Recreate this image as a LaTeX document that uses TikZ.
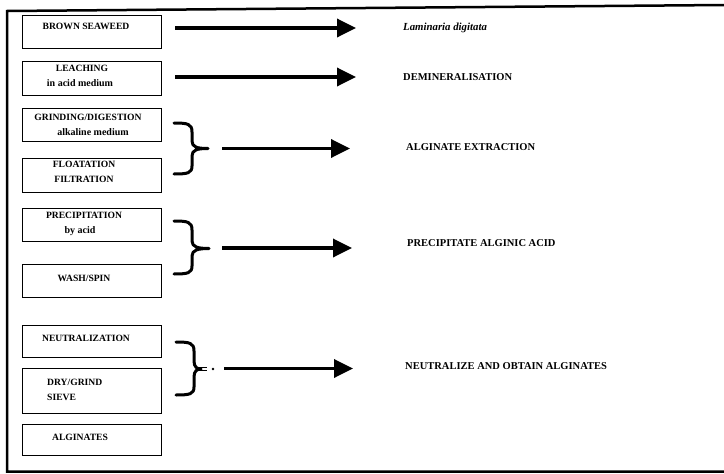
\documentclass[tikz,border=0pt]{standalone}
\usepackage{fontspec}
\setmainfont{Liberation Serif}
\usetikzlibrary{arrows.meta}
\begin{document}
\begin{tikzpicture}[x=1pt,y=-1pt,
 stepbox/.style={draw, line width=0.9pt, minimum width=139pt, inner sep=0pt},
 bt/.style={inner sep=0pt, font=\fontsize{9.6}{11}\selectfont\bfseries},
 st/.style={inner sep=0pt, font=\fontsize{10}{11}\selectfont\bfseries},
 lab/.style={inner sep=0pt, anchor=west, font=\fontsize{10.5}{12}\selectfont\bfseries},
 arr/.style={line width=3.5pt, -{Triangle[length=19pt,width=18pt]}},
 brc/.style={line width=3pt, line cap=round, line join=round}]
\useasboundingbox (0,0) rectangle (724,474);
% frame
\draw[line width=2.5pt] (724,5) -- (7,11) -- (7,471.5) -- (724,471.5);
% boxes
\node[stepbox, minimum height=33pt] (b1) at (91.5,31.5) {};
\node[stepbox, minimum height=34pt] (b2) at (91.5,78) {};
\node[stepbox, minimum height=33pt] (b3) at (91.5,124.5) {};
\node[stepbox, minimum height=34pt] (b4) at (91.5,175) {};
\node[stepbox, minimum height=33pt] (b5) at (91.5,224.5) {};
\node[stepbox, minimum height=33pt] (b6) at (91.5,280.5) {};
\node[stepbox, minimum height=32pt] (b7) at (91.5,341) {};
\node[stepbox, minimum height=45pt] (b8) at (91.5,390.5) {};
\node[stepbox, minimum height=31pt] (b9) at (91.5,439.5) {};
% box texts
\node[bt] (t1) at (86,26) {BROWN SEAWEED};
\node[bt] (t2a) at (82,68) {LEACHING};
\node[st] (t2b) at (80,83) {in acid medium};
\node[bt] (t3a) at (88,117) {GRINDING/DIGESTION};
\node[st] (t3b) at (93,132) {alkaline medium};
\node[bt] (t4a) at (84,164) {FLOATATION};
\node[bt] (t4b) at (84,179) {FILTRATION};
\node[bt] (t5a) at (84,215) {PRECIPITATION};
\node[st] (t5b) at (80,231) {by acid};
\node[bt] (t6) at (84,278) {WASH/SPIN};
\node[bt] (t7) at (86,338) {NEUTRALIZATION};
\node[bt, anchor=west] (t8a) at (47,382) {DRY/GRIND};
\node[bt, anchor=west] (t8b) at (47,397) {SIEVE};
\node[bt] (t9) at (80,437) {ALGINATES};
% right labels
\node[lab, font=\fontsize{10.8}{12}\selectfont\bfseries\itshape] (l1) at (403,28) {Laminaria digitata};
\node[lab] (l2) at (403,77) {DEMINERALISATION};
\node[lab] (l3) at (406,147) {ALGINATE EXTRACTION};
\node[lab] (l4) at (407,243) {PRECIPITATE ALGINIC ACID};
\node[lab] (l5) at (405,366) {NEUTRALIZE AND OBTAIN ALGINATES};
% braces
\draw[brc] (174,123) .. controls (188,123) and (192,124) .. (192,132) -- (192,141)
  .. controls (192,147) and (197,148.5) .. (208,148.5)
  .. controls (197,148.5) and (192,150) .. (192,156) -- (192,166)
  .. controls (192,173) and (188,174) .. (174,174);
\draw[brc] (174,221) .. controls (188,221) and (192,222) .. (192,230) -- (192,241)
  .. controls (192,247) and (198,248.5) .. (209,248.5)
  .. controls (198,248.5) and (192,250) .. (192,256) -- (192,266)
  .. controls (192,273) and (188,274) .. (174,274);
\draw[brc] (176,342) .. controls (190,342) and (194,343) .. (194,351) -- (194,361)
  .. controls (194,367) and (197,369) .. (201,369)
  .. controls (197,369) and (194,371) .. (194,377) -- (194,387)
  .. controls (194,394) and (190,395) .. (176,395);
\draw[line width=0.9pt] (198,367.3) -- (207,367.3) (198,370.7) -- (207,370.7);
\fill (213,369) circle (1.3pt);
\coordinate (k1) at (222,148.5);
\coordinate (k2) at (222,248);
\coordinate (k3) at (224,368.5);
% arrows
\draw[arr] ([xshift=14pt]b1.east |- l1.west) -- ([xshift=-47pt]l1.west);
\draw[arr] ([xshift=14pt]b2.east |- l2.west) -- ([xshift=-47pt]l2.west);
\draw[arr] (k1) -- ([xshift=-56pt]k1 -| l3.west);
\draw[arr] (k2) -- ([xshift=-55pt]k2 -| l4.west);
\draw[arr] (k3) -- ([xshift=-52pt]k3 -| l5.west);
\end{tikzpicture}
\end{document}
